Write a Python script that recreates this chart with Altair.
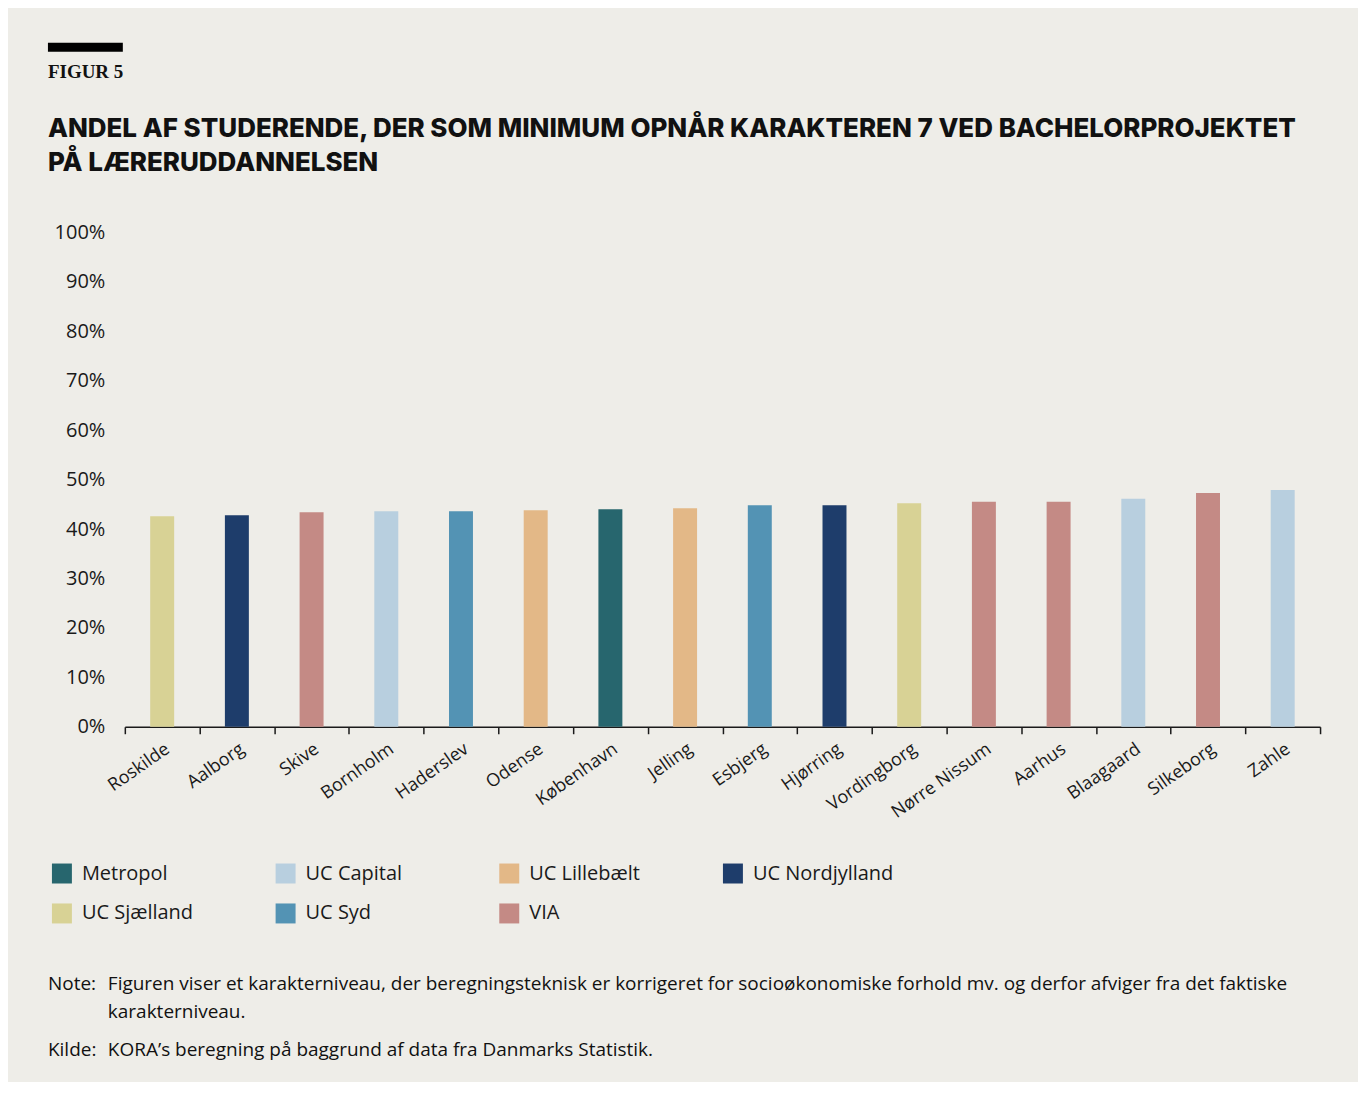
import altair as alt
import pandas as pd

campuses = ["Roskilde", "Aalborg", "Skive", "Bornholm", "Haderslev", "Odense",
            "København", "Jelling", "Esbjerg", "Hjørring", "Vordingborg",
            "Nørre Nissum", "Aarhus", "Blaagaard", "Silkeborg", "Zahle"]
institutions = ["UC Sjælland", "UC Nordjylland", "VIA", "UC Capital", "UC Syd",
                "UC Lillebælt", "Metropol", "UC Lillebælt", "UC Syd", "UC Nordjylland",
                "UC Sjælland", "VIA", "VIA", "UC Capital", "VIA", "UC Capital"]
shares = [42.6, 42.8, 43.4, 43.6, 43.6, 43.8, 44.0, 44.2, 44.8, 44.8,
          45.2, 45.5, 45.5, 46.1, 47.3, 47.9]

legend_names = ["Metropol", "UC Capital", "UC Lillebælt", "UC Nordjylland",
                "UC Sjælland", "UC Syd", "VIA"]
legend_colors = ["#27666E", "#B8CFDF", "#E3B887", "#1E3D6B",
                 "#D8D295", "#5393B4", "#C48A85"]
y_ticks = [0, 10, 20, 30, 40, 50, 60, 70, 80, 90, 100]

figure_label = "FIGUR 5"
title_lines = ["ANDEL AF STUDERENDE, DER SOM MINIMUM OPNÅR KARAKTEREN 7 VED BACHELORPROJEKTET",
               "PÅ LÆRERUDDANNELSEN"]
note_label = "Note:"
note_lines = ["Figuren viser et karakterniveau, der beregningsteknisk er korrigeret for socioøkonomiske forhold mv. og derfor afviger fra det faktiske",
              "karakterniveau."]
source_label = "Kilde:"
source_line = "KORA’s beregning på baggrund af data fra Danmarks Statistik."

df = pd.DataFrame({"campus": campuses, "inst": institutions, "share": shares})

BG = "#EEEDE8"
FONT = "Open Sans"
TFONT = "Inter"

bars = alt.Chart(df).mark_bar(size=24).encode(
    x=alt.X("campus:N", sort=campuses, title=None,
            scale=alt.Scale(paddingInner=0, paddingOuter=0),
            axis=alt.Axis(labelAngle=-35, labelAlign="right", labelBaseline="top",
                          labelFontSize=18, labelFont=FONT, labelColor="#1a1a1a",
                          labelPadding=6, domainColor="#1a1a1a", domainWidth=1.5,
                          tickColor="#1a1a1a", tickSize=7, tickWidth=1.5,
                          tickBand="extent", grid=False)),
    y=alt.Y("share:Q", title=None,
            scale=alt.Scale(domain=[0, 100], nice=False),
            axis=alt.Axis(values=y_ticks, labelExpr="datum.value + '%'",
                          labelFontSize=20, labelFont=FONT, labelColor="#1a1a1a",
                          labelPadding=20, ticks=False, domain=False, grid=False)),
    color=alt.Color("inst:N", title=None,
                    scale=alt.Scale(domain=legend_names, range=legend_colors),
                    legend=alt.Legend(orient="none", legendX=-73, legendY=632,
                                      direction="horizontal", columns=4,
                                      gridAlign="all", columnPadding=53,
                                      rowPadding=20,
                                      symbolType="square", symbolSize=400,
                                      symbolStrokeWidth=0, symbolOpacity=1,
                                      labelFont=FONT, labelFontSize=20,
                                      labelColor="#1a1a1a", labelOffset=10)),
)

def txt(s, x, y, size, font, weight="normal", color="#111"):
    return alt.Chart(pd.DataFrame({"t": [s]})).mark_text(
        align="left", baseline="middle", fontSize=size, font=font,
        fontWeight=weight, color=color).encode(
        text="t:N", x=alt.value(x), y=alt.value(y))

bar_rule = alt.Chart(pd.DataFrame({"a": [0]})).mark_rule(
    color="#000", strokeWidth=9, strokeCap="butt").encode(
    x=alt.value(-77), x2=alt.value(-2), y=alt.value(-185.5))

layers = [bars, bar_rule,
          txt(figure_label, -77, -161, 19, "Liberation Serif", "bold"),
          txt(title_lines[0], -77, -104, 26, TFONT, 800),
          txt(title_lines[1], -77, -70, 26, TFONT, 800),
          txt(note_label, -77, 753, 19, FONT),
          txt(note_lines[0], -17, 753, 19, FONT),
          txt(note_lines[1], -17, 781, 19, FONT),
          txt(source_label, -77, 819, 19, FONT),
          txt(source_line, -17, 819, 19, FONT)]

chart = alt.layer(*layers).properties(
    width=1197, height=495,
    autosize=alt.AutoSizeParams(type="none"),
    padding={"left": 117, "top": 224, "right": 38, "bottom": 355},
    background=BG,
).configure_view(stroke=None)

chart.save("out.html", embed_options={"renderer": "svg", "actions": False})
